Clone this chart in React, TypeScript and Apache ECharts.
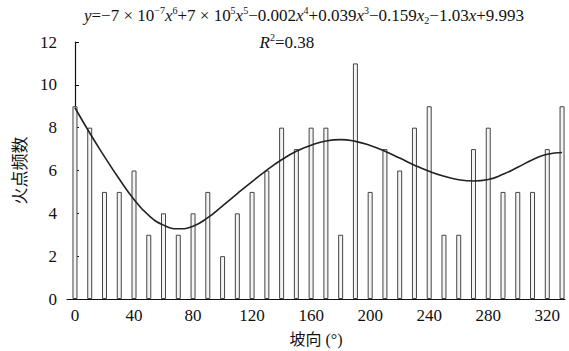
import React, { useEffect, useRef } from "react";
import * as echarts from "echarts";

const aspectAngles = [0, 10, 20, 30, 40, 50, 60, 70, 80, 90, 100, 110, 120, 130, 140, 150, 160, 170, 180, 190, 200, 210, 220, 230, 240, 250, 260, 270, 280, 290, 300, 310, 320, 330];
const fireCounts = [9, 8, 5, 5, 6, 3, 4, 3, 4, 5, 2, 4, 5, 6, 8, 7, 8, 8, 3, 11, 5, 7, 6, 8, 9, 3, 3, 7, 8, 5, 5, 5, 7, 9];
const fitValues = [8.93, 7.75, 6.65, 5.6, 4.65, 3.9, 3.45, 3.28, 3.4, 3.8, 4.35, 4.92, 5.48, 6.02, 6.5, 6.9, 7.18, 7.38, 7.44, 7.36, 7.17, 6.9, 6.58, 6.25, 5.96, 5.73, 5.57, 5.51, 5.58, 5.82, 6.15, 6.5, 6.76, 6.84];
const xTickLabels = [0, 40, 80, 120, 160, 200, 240, 280, 320];
const yTickLabels = [0, 2, 4, 6, 8, 10, 12];
const formulaPieces: [string, string][] = [
  ["y", "i"], ["=−7 × 10", "n"], ["−7", "sup"], ["x", "i"], ["6", "sup"],
  ["+7 × 10", "n"], ["5", "sup"], ["x", "i"], ["5", "sup"],
  ["−0.002", "n"], ["x", "i"], ["4", "sup"],
  ["+0.039", "n"], ["x", "i"], ["3", "sup"],
  ["−0.159", "n"], ["x", "i"], ["2", "sub"],
  ["−1.03", "n"], ["x", "i"], ["+9.993", "n"],
];
const r2Pieces: [string, string][] = [["R", "i"], ["2", "sup"], ["=0.38", "n"]];

const FONTS: Record<string, string> = {
  n: "17px 'Liberation Serif'",
  i: "italic 17px 'Liberation Serif'",
  sup: "10px 'Liberation Serif'",
  sub: "10px 'Liberation Serif'",
  xname: "16px 'Liberation Serif', 'Noto Sans CJK SC'",
  yname: "17px 'Noto Sans CJK SC'",
};
const INK = "#111";

export default function App() {
  const ref = useRef<HTMLDivElement>(null);
  useEffect(() => {
    document.body.style.margin = "0";
    if (!ref.current) return;
    const chart = echarts.init(ref.current, undefined, { renderer: "svg" });
    const barData = aspectAngles.map((a, i) => [a, fireCounts[i]]);
    const lineData = aspectAngles.map((a, i) => [a, fitValues[i]]);
    chart.setOption({
      animation: false,
      backgroundColor: "#fff",
      grid: { left: 67, right: 4, top: 42, bottom: 52, containLabel: false },
      xAxis: {
        type: "value",
        min: -5.4,
        max: 332,
        axisLine: { show: true, lineStyle: { color: INK, width: 1.2 } },
        axisTick: { show: false },
        splitLine: { show: false },
        axisLabel: { show: false, customValues: xTickLabels, fontSize: 17, color: INK, margin: 8 },
      },
      yAxis: {
        type: "value",
        min: 0,
        max: 12,
        interval: 2,
        axisLine: { show: true, lineStyle: { color: INK, width: 1.2 } },
        axisTick: { show: true, inside: true, length: 4, lineStyle: { color: INK } },
        splitLine: { show: false },
        axisLabel: { show: false, fontSize: 17, color: INK, margin: 10 },
      },
      series: [
        { type: "bar", data: barData, barWidth: 5, itemStyle: { color: "#f4f4f4", borderColor: "#444", borderWidth: 1 } },
        { type: "line", data: lineData, smooth: true, showSymbol: false, symbol: "none", lineStyle: { color: "#222", width: 1.6 }, z: 5 },
      ],
    });

    try {
      const ctx = document.createElement("canvas").getContext("2d")!;
      const measure = (s: string, kind: string) => {
        ctx.font = FONTS[kind];
        return ctx.measureText(s).width;
      };
      const mkText = (text: string, kind: string, x: number, y: number) => ({
        type: "text",
        left: Math.round(x * 10) / 10,
        top: Math.round(y * 10) / 10,
        style: { text, font: FONTS[kind], fill: INK },
      });
      const layoutLine = (pieces: [string, string][], centerX: number, midY: number) => {
        const widths = pieces.map(([s, k]) => measure(s, k));
        const total = widths.reduce((a, b) => a + b, 0);
        let x = centerX - total / 2;
        const top = midY - 8.5;
        return pieces.map(([s, k], idx) => {
          const y = k === "sup" ? top - 1.5 : k === "sub" ? top + 9 : top;
          const el = mkText(s, k, x, y);
          x += widths[idx];
          return el;
        });
      };
      const g: any[] = [];
      g.push(...layoutLine(formulaPieces, 304, 15));
      g.push(...layoutLine(r2Pieces, 287, 42));
      yTickLabels.forEach((v) => {
        const py = chart.convertToPixel({ yAxisIndex: 0 }, v) as number;
        const s = String(v);
        g.push(mkText(s, "n", 57 - measure(s, "n"), py - 8.5));
      });
      const baseY = chart.convertToPixel({ yAxisIndex: 0 }, 0) as number;
      xTickLabels.forEach((v) => {
        const px = chart.convertToPixel({ xAxisIndex: 0 }, v) as number;
        const s = String(v);
        g.push(mkText(s, "n", px - measure(s, "n") / 2, baseY + 8));
      });
      const x0 = chart.convertToPixel({ xAxisIndex: 0 }, -5.4) as number;
      const x1 = chart.convertToPixel({ xAxisIndex: 0 }, 332) as number;
      const xName = "坡向 (°)";
      g.push(mkText(xName, "xname", (x0 + x1) / 2 - measure(xName, "xname") / 2, baseY + 32));
      const yTop = chart.convertToPixel({ yAxisIndex: 0 }, 12) as number;
      const yName = "火点频数";
      const yw = measure(yName, "yname");
      const cy = (yTop + baseY) / 2;
      g.push({
        type: "text",
        x: 18 - 8.5,
        y: cy + yw / 2,
        rotation: Math.PI / 2,
        style: { text: yName, font: FONTS.yname, fill: INK },
      });
      chart.setOption({ graphic: g });
    } catch (e) {
      chart.setOption({
        xAxis: { axisLabel: { show: true }, name: "坡向 (°)", nameLocation: "middle", nameGap: 33 },
        yAxis: { axisLabel: { show: true }, name: "火点频数", nameLocation: "middle", nameGap: 46, nameRotate: 90 },
      });
    }
    return () => chart.dispose();
  }, []);
  return <div ref={ref} style={{ width: 569, height: 351 }} />;
}
